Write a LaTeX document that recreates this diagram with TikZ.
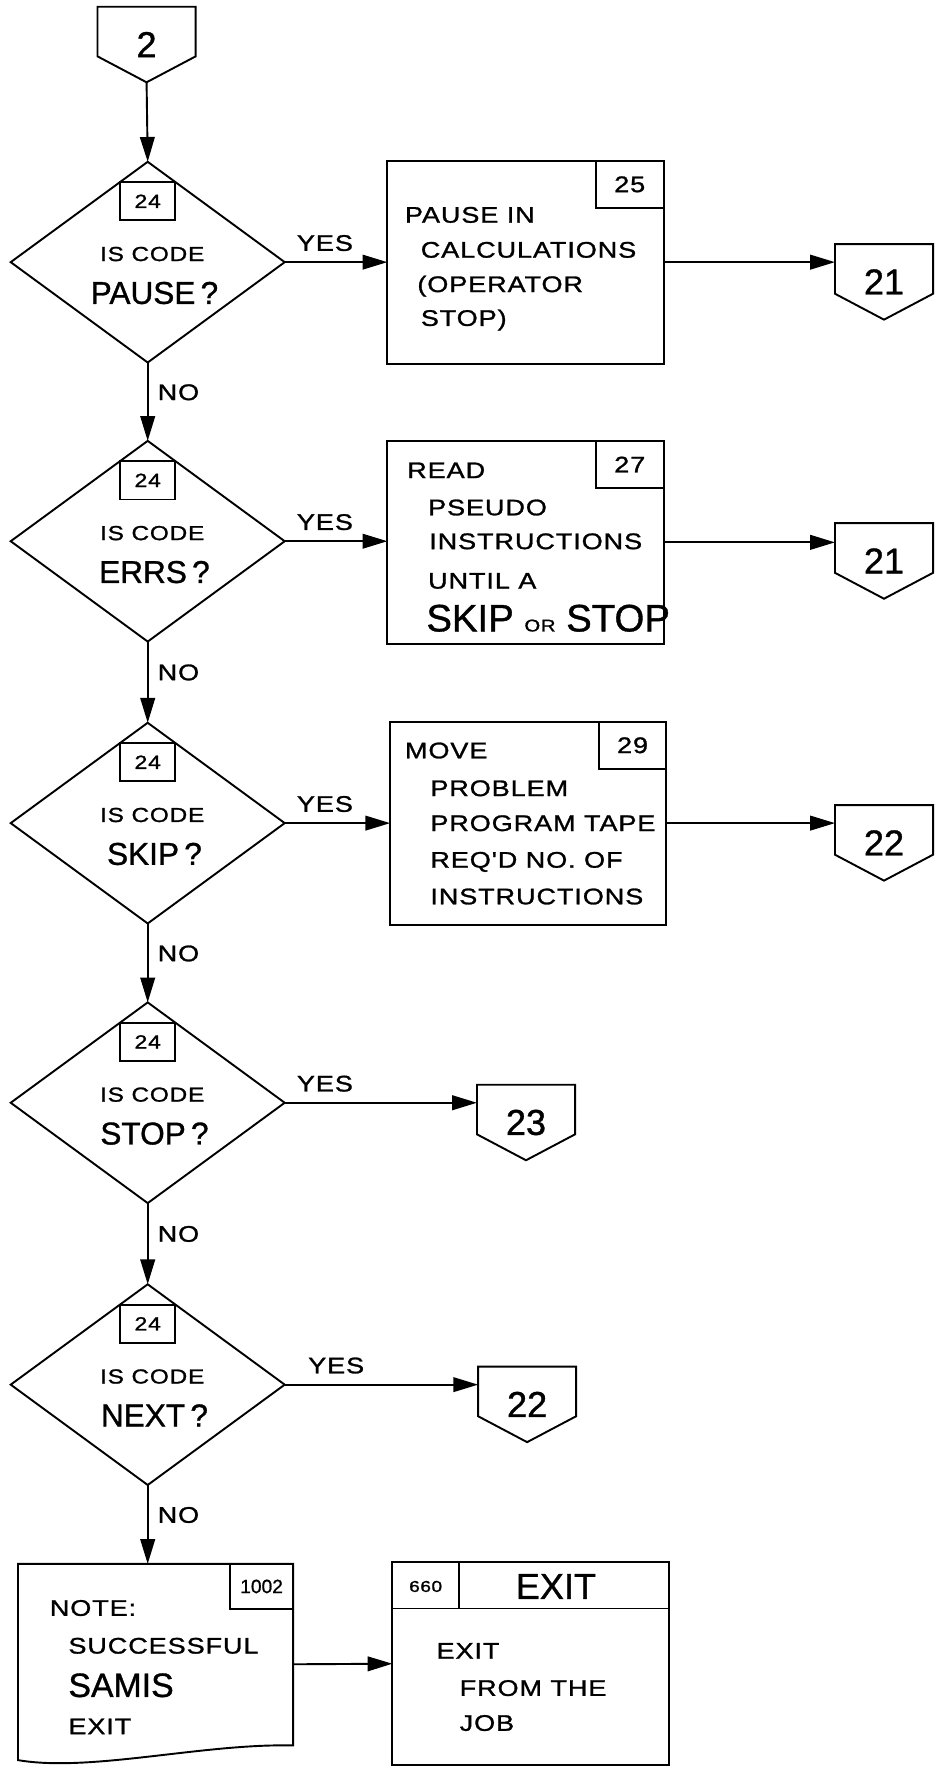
\documentclass[tikz,border=0pt]{standalone}
\usepackage{fontspec}
\setmainfont{Liberation Sans}[FakeBold=1]
\newfontfamily\lettering{Liberation Sans}[FakeStretch=1.2,LetterSpace=4,FakeBold=1.2]
\usetikzlibrary{shapes.geometric,arrows.meta}

\tikzset{
  pen/.style={line width=1.7pt},
  flow/.style={pen,-{Triangle[length=22pt,width=13pt]}},
  decision/.style={diamond,draw,pen,minimum width=243pt,minimum height=178pt,inner sep=0pt,outer sep=0pt},
  process/.style={rectangle,draw,pen,minimum width=245pt,minimum height=180pt,inner sep=0pt,outer sep=0pt},
  refbox/.style={rectangle,draw,pen,minimum width=60pt,minimum height=42pt,inner sep=0pt,outer sep=0pt,font=\lettering\fontsize{20}{22}\selectfont},
  offpg/.style={rectangle,minimum width=87pt,minimum height=67pt,inner sep=0pt,outer sep=0pt,font=\fontsize{32}{34}\selectfont},
  txt/.style={anchor=base west,inner sep=0pt,font=\lettering\fontsize{20}{24}\selectfont},
  yeslabel/.style={pos=0,anchor=south west,xshift=10pt,yshift=9pt,inner sep=0pt,font=\lettering\fontsize{20}{22}\selectfont},
  nolabel/.style={pos=0.38,anchor=west,xshift=8pt,inner sep=0pt,font=\lettering\fontsize{20}{22}\selectfont},
}

% off-page connector: name, position, label
\newcommand{\offpage}[3]{%
  \node[offpg] (#1) at (#2) {#3};
  \draw[pen] (#1.north west) -- (#1.north east) -- ([yshift=23pt]#1.south east)
    -- (#1.south) -- ([yshift=23pt]#1.south west) -- cycle;
}

\begin{document}
\begin{tikzpicture}[x=1pt,y=-1pt]
  \useasboundingbox (0,0) rectangle (829,1568);

  % Decisions down the left side
  \node[decision] (d1) at (131,232.5) {};
  \node[decision] (d2) at (131,480) {};
  \node[decision] (d3) at (131,730) {};
  \node[decision] (d4) at (131,978) {};
  \node[decision] (d5) at (131,1228) {};

  % Reference box and question inside each decision
  \foreach \d/\w in {d1/PAUSE,d2/ERRS,d3/SKIP,d4/STOP,d5/NEXT} {
    \node[refbox,minimum width=49pt,minimum height=34pt,font=\lettering\fontsize{17}{19}\selectfont] (r\d) at ([yshift=-35pt]\d.north) {24};
    \node[anchor=base,inner sep=0pt,font=\lettering\fontsize{18}{20}\selectfont] (q\d) at ([xshift=4pt,yshift=1pt]\d.center) {IS CODE};
    \node[anchor=base,inner sep=0pt,font=\fontsize{28}{30}\selectfont] (w\d) at ([xshift=6pt,yshift=-37pt]\d.center) {\w\,?};
  }

  % Process boxes
  \node[process] (b25) at (466,232.5) {};
  \node[process] (b27) at (466,481) {};
  \node[process] (b29) at (468.5,730) {};
  \node[refbox,anchor=north east] (r25) at (b25.north east) {25};
  \node[refbox,anchor=north east] (r27) at (b27.north east) {27};
  \node[refbox,anchor=north east] (r29) at (b29.north east) {29};

  % Box texts
  \foreach \x/\y/\t [count=\i] in {359/197.5/PAUSE IN,373/228.5/CALCULATIONS,370/259/{(OPERATOR},373/289/{STOP)}}
    \node[txt] (t25\i) at (\x,\y) {\t};
  \foreach \x/\y/\t [count=\i] in {361/424/READ,379.5/457/PSEUDO,380.5/487/INSTRUCTIONS,379.5/522/UNTIL A,
      378/560/{\rmfamily\fontsize{34}{36}\selectfont SKIP {\lettering\fontsize{15}{17}\selectfont OR} STOP}}
    \node[txt] (t27\i) at (\x,\y) {\t};
  \foreach \x/\y/\t [count=\i] in {359/672.5/MOVE,381.5/706/PROBLEM,381.5/737/PROGRAM TAPE,381.5/769.5/REQ'D NO. OF,381.5/802/INSTRUCTIONS}
    \node[txt] (t29\i) at (\x,\y) {\t};

  % Off-page connectors
  \offpage{c2}{130,39.5}{2}
  \offpage{c21a}{784,250}{21}
  \offpage{c21b}{784,497.5}{21}
  \offpage{c22a}{784,747.5}{22}
  \offpage{c23}{466.5,995.5}{23}
  \offpage{c22b}{467.5,1245.5}{22}

  % Note (document shape)
  \node[rectangle,minimum width=244pt,minimum height=178pt,inner sep=0pt,outer sep=0pt] (n1002) at (138,1476) {};
  \draw[pen] (n1002.north west) -- (n1002.north east) -- ([yshift=17pt]n1002.south east)
    .. controls ([xshift=-80pt,yshift=19pt]n1002.south east) and ([xshift=64pt,yshift=-7pt]n1002.south west)
    .. ([yshift=4pt]n1002.south west) -- cycle;
  \node[refbox,minimum width=56pt,minimum height=40pt,anchor=north east,font=\fontsize{17}{19}\selectfont] (r1002) at (n1002.north east) {1002};
  \foreach \x/\y/\t [count=\i] in {44/1433/NOTE:,60.5/1466.5/SUCCESSFUL,60.5/1505/{\rmfamily\fontsize{30}{32}\selectfont SAMIS},60.5/1538/EXIT}
    \node[txt] (tn\i) at (\x,\y) {\t};

  % Exit box with header
  \node[process] (x660) at (470.5,1475.5) {};
  \draw[pen] ([yshift=-41pt]x660.north west) -- ([yshift=-41pt]x660.north east);
  \draw[pen] ([xshift=59pt]x660.north west) -- ([xshift=59pt,yshift=-41pt]x660.north west);
  \node[font=\lettering\fontsize{14}{16}\selectfont] (h660) at (377.5,1407) {660};
  \node[font=\fontsize{32}{34}\selectfont] (hexit) at (493,1407) {EXIT};
  \foreach \x/\y/\t [count=\i] in {387/1471/EXIT,407.5/1504/FROM THE,407.5/1535/JOB}
    \node[txt] (tx\i) at (\x,\y) {\t};

  % Flow lines
  \draw[flow] (c2.south) -- (d1.north);
  \draw[flow] (d1.east) -- node[yeslabel] {YES} (d1.east -| b25.west);
  \draw[flow] (b25.east) -- (b25.east -| c21a.west);
  \draw[flow] (d1.south) -- node[nolabel] {NO} (d2.north);
  \draw[flow] (d2.east) -- node[yeslabel] {YES} (d2.east -| b27.west);
  \draw[flow] (b27.east) -- (b27.east -| c21b.west);
  \draw[flow] (d2.south) -- node[nolabel] {NO} (d3.north);
  \draw[flow] (d3.east) -- node[yeslabel] {YES} (d3.east -| b29.west);
  \draw[flow] (b29.east) -- (b29.east -| c22a.west);
  \draw[flow] (d3.south) -- node[nolabel] {NO} (d4.north);
  \draw[flow] (d4.east) -- node[yeslabel] {YES} (d4.east -| c23.west);
  \draw[flow] (d4.south) -- node[nolabel] {NO} (d5.north);
  \draw[flow] (d5.east) -- node[yeslabel,xshift=10pt] {YES} (d5.east -| c22b.west);
  \draw[flow] (d5.south) -- node[nolabel] {NO} (d5.south |- n1002.north);
  \draw[flow] (n1002.east) -- (x660.west);
\end{tikzpicture}
\end{document}
